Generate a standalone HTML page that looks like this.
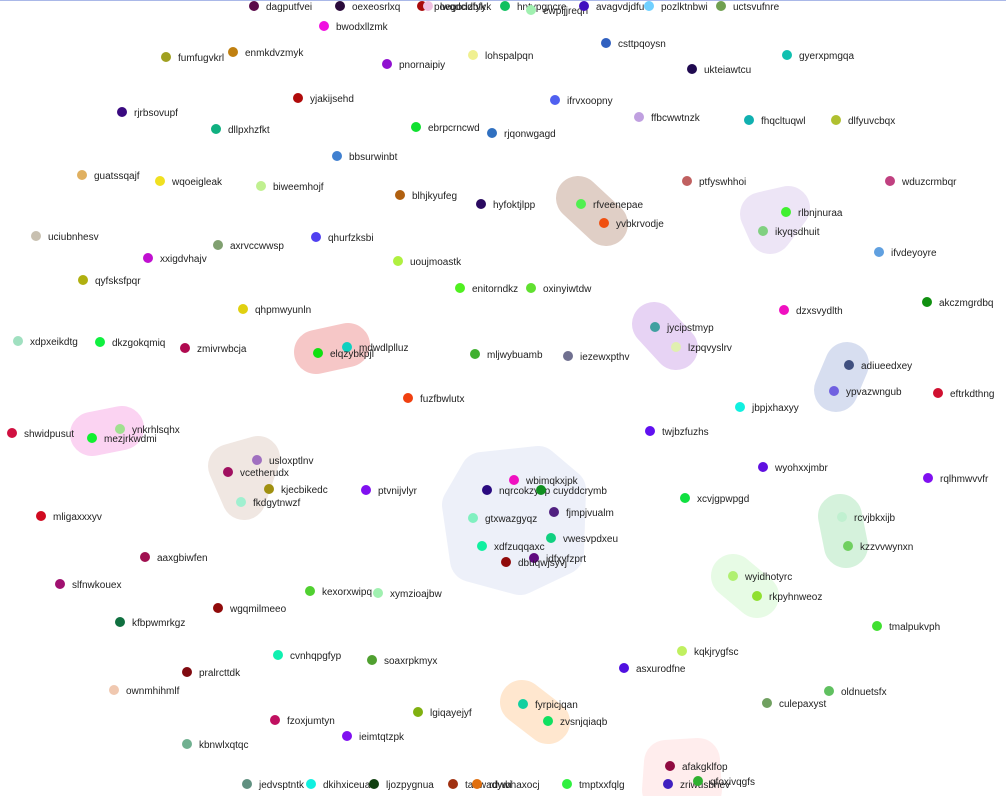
<!DOCTYPE html>
<html><head><meta charset="utf-8"><style>
html,body{margin:0;padding:0;background:#fff;}
svg{display:block;font-family:"Liberation Sans",sans-serif;}
</style></head><body>
<svg id="chart" width="1006" height="796">
<line x1="0" y1="0.5" x2="1006" y2="0.5" stroke="#aab8e8" stroke-width="1"/>
<g id="hulls"></g>
<g id="nodes"></g>
</svg>
<script>
const hullColors=["#c8a898","#e0d0f0","#f09a9a","#d4b0ec","#b8c4e4","#f8b0e8","#e4d4cc","#dfe4f5","#b4e8c0","#d4f8d0","#ffd4a8","#ffe0e0"];
const hullPts=[
 [[578,198],[606,224]],
 [[762,214],[788,208],[770,232]],
 [[316,352],[348,345]],
 [[654,324],[676,348]],
 [[847,364],[836,390]],
 [[92,434],[122,428]],
 [[230,466],[258,458],[244,498]],
 [[482,474],[538,468],[564,490],[562,553],[520,573],[472,560],[464,505]],
 [[840,516],[846,546]],
 [[733,576],[757,596]],
 [[522,702],[548,722]],
 [[666,762],[698,760],[700,790],[664,790]]
];
const names=["dagputfvei","oexeosrlxq","poegoddbfyk","lwqdcizfyk","hntvpgncre","ewpljjreqn","avagvdjdfu","pozlktnbwi","uctsvufnre","bwodxllzmk","csttpqoysn","enmkdvzmyk","fumfugvkrl","lohspalpqn","pnornaipiy","gyerxpmgqa","ukteiawtcu","yjakijsehd","ifrvxoopny","rjrbsovupf","ffbcwwtnzk","fhqcltuqwl","dlfyuvcbqx","dllpxhzfkt","ebrpcrncwd","rjqonwgagd","bbsurwinbt","guatssqajf","wqoeigleak","biweemhojf","ptfyswhhoi","wduzcrmbqr","blhjkyufeg","hyfoktjlpp","rfveenepae","yvbkrvodje","rlbnjnuraa","ikyqsdhuit","uciubnhesv","axrvccwwsp","qhurfzksbi","xxigdvhajv","ifvdeyoyre","uoujmoastk","qyfsksfpqr","enitorndkz","oxinyiwtdw","akczmgrdbq","qhpmwyunln","dzxsvydlth","jycipstmyp","xdpxeikdtg","dkzgokqmiq","zmivrwbcja","mdwdlplluz","elqzybkpjl","lzpqvyslrv","mljwybuamb","iezewxpthv","adiueedxey","ypvazwngub","eftrkdthng","fuzfbwlutx","jbpjxhaxyy","shwidpusut","ynkrhlsqhx","mezjrkwdmi","twjbzfuzhs","usloxptlnv","vcetherudx","wyohxxjmbr","rqlhmwvvfr","wbimqkxjpk","nqrcokzyep","cuyddcrymb","kjecbikedc","ptvnijvlyr","fkdgytnwzf","xcvjgpwpgd","fjmpjvualm","mligaxxxyv","gtxwazgyqz","rcvjbkxijb","vwesvpdxeu","xdfzuqqaxc","kzzvvwynxn","aaxgbiwfen","idfxyfzprt","dbuqwjsyvj","slfnwkouex","wyidhotyrc","kexorxwipq","xymzioajbw","rkpyhnweoz","wgqmilmeeo","kfbpwmrkgz","tmalpukvph","kqkjrygfsc","cvnhqpgfyp","soaxrpkmyx","asxurodfne","pralrcttdk","ownmhihmlf","oldnuetsfx","culepaxyst","fyrpicjqan","lgiqayejyf","zvsnjqiaqb","fzoxjumtyn","ieimtqtzpk","kbnwlxqtqc","afakgklfop","jedvsptntk","dkihxiceua","ljozpygnua","tahwadywi","rdwbhaxocj","tmptxxfqlg","zriwusbhev","qfoxivqgfs"];
const xs=[254,340,422,428,505,531,584,649,721,324,606,233,166,473,387,787,692,298,555,122,639,749,836,216,416,492,337,82,160,261,687,890,400,481,581,604,786,763,36,218,316,148,879,398,83,460,531,927,243,784,655,18,100,185,347,318,676,475,568,849,834,938,408,740,12,120,92,650,257,228,763,928,514,487,541,269,366,241,685,554,41,473,842,551,482,848,145,534,506,60,733,310,378,757,218,120,877,682,278,372,624,187,114,829,767,523,418,548,275,347,187,670,247,311,374,453,477,567,668,698];
const ys=[6,6,6,6,6,10,6,6,6,26,43,52,57,55,64,55,69,98,100,112,117,120,120,129,127,133,156,175,181,186,181,181,195,204,204,223,212,231,236,245,237,258,252,261,280,288,288,302,309,310,327,341,342,348,347,353,347,354,356,365,391,393,398,407,433,429,438,431,460,472,467,478,480,490,490,489,490,502,498,512,516,518,517,538,546,546,557,558,562,584,576,591,593,596,608,622,626,651,655,660,668,672,690,691,703,704,712,721,720,736,744,766,784,784,784,784,784,784,784,781];
const colors=["#5a0a4a","#2a0a3a","#aa0a0a","#f0c0e0","#10c060","#a0f0b0","#4010c0","#70d0ff","#70a050","#f010e0","#3060c0","#c08010","#a0a020","#f0f090","#9010d0","#10c0b0","#200a50","#b00a0a","#5060f0","#3a0a80","#c0a0e0","#10b0b0","#b0c030","#10b080","#10e030","#3070c0","#4080d0","#e0b060","#f0e020","#c0f090","#c06060","#c04080","#b06010","#2a0a60","#50f050","#f05010","#40f030","#80d080","#c8c0b0","#80a070","#5040f0","#c010d0","#60a0e0","#b0f040","#b0b010","#50f020","#60e030","#109010","#e0d010","#f010c0","#40a0a0","#a0e0c0","#10f040","#b00a50","#10d0c0","#10e010","#e0f0b0","#40b030","#707090","#405080","#7060e0","#d01030","#f04010","#10f0e0","#d01040","#a0e090","#10f030","#6010f0","#a070c0","#a01060","#6010e0","#8010f0","#f010c0","#2a0a80","#109020","#a09010","#8010f0","#a0f0d0","#10e040","#502080","#d00a20","#80f0c0","#c0f0d0","#10d080","#10f0a0","#70d060","#a01050","#600a80","#900a0a","#a01070","#b0f070","#50d030","#a0f0b0","#90e030","#900a0a","#107040","#40e030","#c0f060","#10f0b0","#50a030","#5010e0","#800a10","#f0c8b0","#60c060","#70a060","#10d0a0","#80b010","#10e060","#c01060","#8010f0","#70b090","#900a40","#609080","#10f0e0","#104010","#a03010","#e07010","#30f040","#4020c0","#30b030"];
const NS="http://www.w3.org/2000/svg";
const hg=document.getElementById('hulls');
hullPts.forEach((pts,i)=>{
  const p=document.createElementNS(NS,'polygon');
  p.setAttribute('points',pts.map(q=>q.join(',')).join(' '));
  p.setAttribute('fill',hullColors[i]);
  p.setAttribute('stroke',hullColors[i]);
  p.setAttribute('stroke-width','44');
  p.setAttribute('stroke-linejoin','round');
  p.setAttribute('stroke-linecap','round');
  p.setAttribute('opacity','0.55');
  
  
  hg.appendChild(p);
});
const ng=document.getElementById('nodes');
names.forEach((n,i)=>{
  const g=document.createElementNS(NS,'g');
  
  
  const c=document.createElementNS(NS,'circle');
  c.setAttribute('cx',xs[i]);c.setAttribute('cy',ys[i]);c.setAttribute('r','5');
  c.setAttribute('fill',colors[i]);
  
  
  const t=document.createElementNS(NS,'text');
  t.setAttribute('x',xs[i]+12);t.setAttribute('y',ys[i]+4);
  t.setAttribute('font-size','10');t.setAttribute('fill','#222');
  
  
  t.textContent=n;
  g.appendChild(c);g.appendChild(t);ng.appendChild(g);
});
</script>
</body></html>
